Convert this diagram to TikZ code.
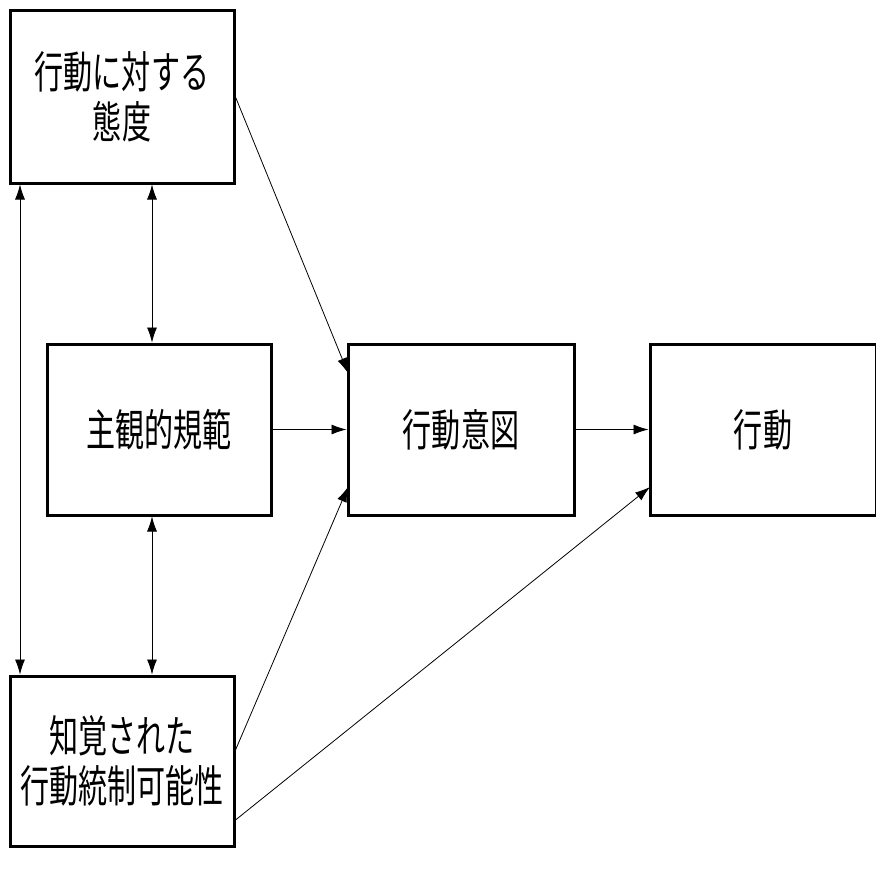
\documentclass[tikz,border=0pt]{standalone}
\usepackage{fontspec}
\usepackage{graphicx}
\newfontfamily\cjk{Noto Sans CJK JP}
\usetikzlibrary{arrows.meta}
\newcommand\sq[1]{\scalebox{0.66}[1]{#1}}
\tikzset{
 box/.style={draw,line width=3pt,inner sep=0pt,font=\cjk\fontsize{44}{50}\selectfont,align=center},
 arr/.style={line width=0.8pt,-{Latex[length=15pt,width=10pt]}},
 darr/.style={line width=0.8pt,{Latex[length=15pt,width=10pt]}-{Latex[length=15pt,width=10pt]}}
}
\begin{document}
\begin{tikzpicture}[x=1pt,y=-1pt]
\useasboundingbox (0,0) rectangle (876,876);
\node[box,minimum width=224pt,minimum height=173pt] (A) at (122,96.5) {\sq{行動に対する}\\[0pt]\sq{態度}};
\node[box,minimum width=224pt,minimum height=171pt] (B) at (159,429.5) {\sq{主観的規範}};
\node[box,minimum width=226pt,minimum height=171pt] (C) at (461,429.5) {\sq{行動意図}};
\node[box,minimum width=226pt,minimum height=171pt] (D) at (763,429.5) {\sq{行動}};
\node[box,minimum width=224pt,minimum height=170pt] (E) at (122,761) {\sq{知覚された}\\[0pt]\sq{行動統制可能性}};
\draw[darr] (A.south -| 20,0) -- (E.north -| 20,0);
\draw[darr] (A.south -| 152,0) -- (B.north -| 152,0);
\draw[darr] (B.south -| 152,0) -- (E.north -| 152,0);
\coordinate (ca) at (348,373);
\coordinate (ce) at (348,487);
\coordinate (de) at (650,487);
\draw[arr] (A.east |- 0,97) -- (ca);
\draw[arr] (B.east) -- (C.west);
\draw[arr] (C.east) -- (D.west);
\draw[arr] (E.east |- 0,750) -- (ce);
\draw[arr] (E.east |- 0,820) -- (de);
\end{tikzpicture}
\end{document}
